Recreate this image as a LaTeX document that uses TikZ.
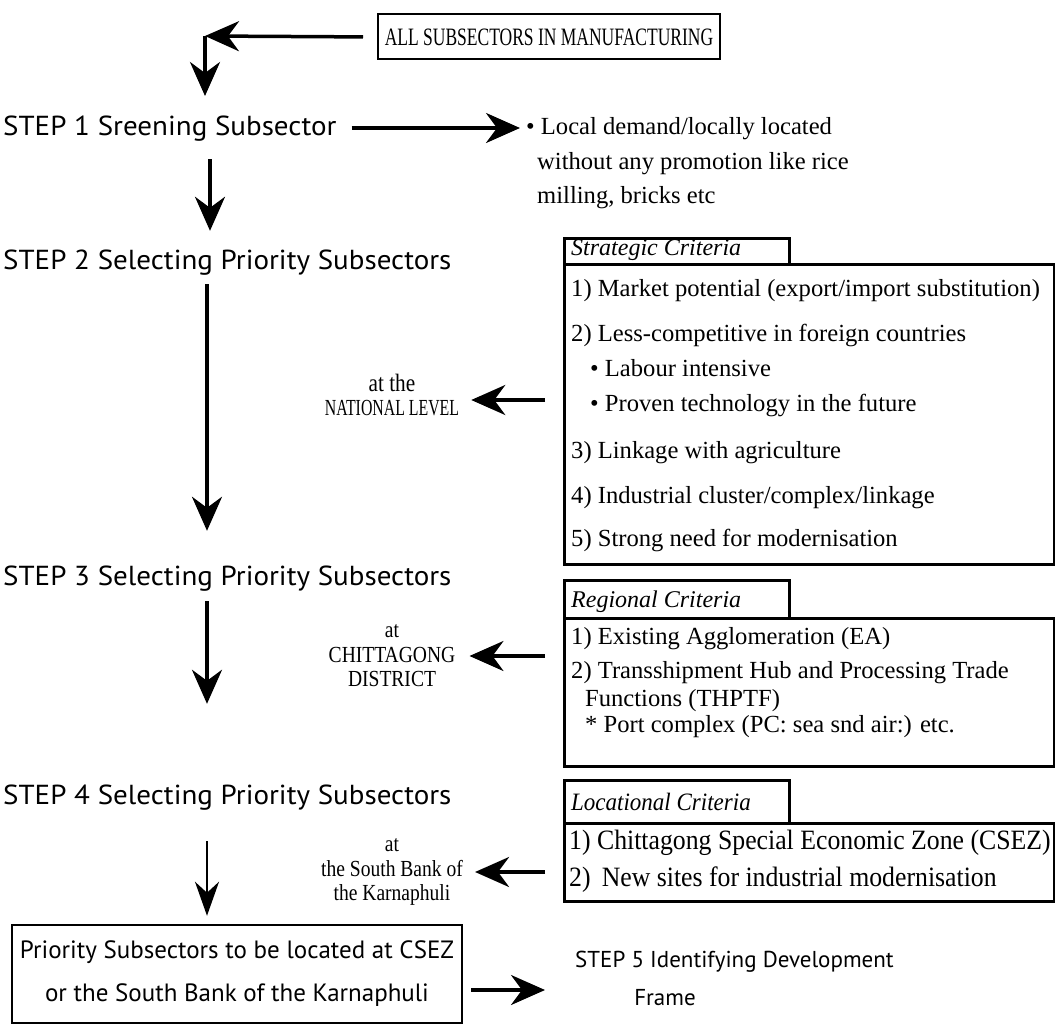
\documentclass[tikz,border=0pt]{standalone}
\usepackage{fontspec}
\setmainfont{Liberation Serif}
\newfontfamily\stepfont[FakeStretch=1.055]{PT Sans}
\newfontfamily\boxsans{PT Sans}
\newfontfamily\condserif[FakeStretch=0.85]{Liberation Serif}
\newfontfamily\locserif[FakeStretch=0.92]{Liberation Serif}
\newfontfamily\narrowserif[FakeStretch=0.7]{Liberation Serif}
\usetikzlibrary{arrows.meta}
\begin{document}
\begin{tikzpicture}[x=1pt,y=-1pt,
  steptxt/.style={anchor=west, inner sep=0pt, text height=19pt, text depth=5pt,
    font=\stepfont\fontsize{27.5}{32}\selectfont},
  crit/.style={anchor=west, inner sep=0pt, text height=17pt, text depth=5pt,
    font=\fontsize{24.6}{30}\selectfont},
  loccrit/.style={anchor=west, inner sep=0pt, text height=18pt, text depth=5pt,
    font=\locserif\fontsize{28}{32}\selectfont},
  lbl/.style={inner sep=0pt, align=center, font=\condserif\fontsize{23}{24.5}\selectfont},
  tabbox/.style={draw, line width=2.5pt, anchor=north west, inner sep=0pt,
    minimum width=225pt, minimum height=26pt},
  tabtxt/.style={anchor=west, inner sep=0pt, font=\itshape\fontsize{24}{28}\selectfont},
  critbox/.style={draw, line width=2.5pt, anchor=north west, inner sep=0pt},
  arr/.style={line width=3.5pt, -{Stealth[length=34pt,width=30pt,inset=11pt]}},
  thinarr/.style={line width=2pt, -{Stealth[length=34pt,width=24pt,inset=11pt]}}
]
\useasboundingbox (0,0) rectangle (1055,1025);

% top box
\node[draw, line width=2pt, minimum width=342pt, minimum height=45pt, inner sep=0pt,
  font=\narrowserif\fontsize{25}{28}\selectfont] (all) at (549,37) {ALL SUBSECTORS IN MANUFACTURING};
\coordinate (c0) at (205,36);
\draw[arr, shorten <=14pt] (all.west) -- (c0);

% steps
\node[steptxt] (step1) at (3,128) {STEP 1 Sreening Subsector};
\node[steptxt] (step2) at (3,262) {STEP 2 Selecting Priority Subsectors};
\node[steptxt] (step3) at (3,578) {STEP 3 Selecting Priority Subsectors};
\node[steptxt] (step4) at (3,797) {STEP 4 Selecting Priority Subsectors};
\coordinate (spine) at (207,0);

\draw[arr] (c0) -- ([yshift=-3pt]c0 |- 0,93);
\draw[arr, shorten <=19pt, shorten >=19pt] (step1.south -| 210,0) -- (step2.north -| 210,0);
\draw[arr, shorten <=10pt, shorten >=35pt] (step2.south -| spine) -- (step3.north -| spine);
\draw[arr, shorten <=11pt, shorten >=81pt] (step3.south -| spine) -- (step4.north -| spine);

% local demand text
\node[crit] (local1) at (526,128) {\textbullet\ Local demand/locally located};
\node[crit] (local2) at (537,163) {without any promotion like rice};
\node[crit] (local3) at (537,197) {milling, bricks etc};
\draw[arr, shorten <=15pt, shorten >=6pt] (step1.east) -- (local1.west);

% strategic criteria
\node[critbox, minimum width=490pt, minimum height=300pt] (sbox) at (563,263) {};
\node[tabbox] (stab) at (563,237) {};
\node[tabtxt] at (571,250) {Strategic Criteria};
\node[crit] (s1) at (571,290) {1) Market potential (export/import substitution)};
\node[crit] (s2) at (571,335) {2) Less-competitive in foreign countries};
\node[crit] (s2a) at (590,370) {\textbullet\ Labour intensive};
\node[crit] (s2b) at (590,405) {\textbullet\ Proven technology in the future};
\node[crit] (s3) at (571,452) {3) Linkage with agriculture};
\node[crit] (s4) at (571,497) {4) Industrial cluster/complex/linkage};
\node[crit] (s5) at (571,540) {5) Strong need for modernisation};

\node[lbl] (natl) at (392,395) {{\fontsize{25}{24.5}\selectfont at the}\\\scalebox{0.81}[1]{NATIONAL LEVEL}};
\draw[arr, shorten <=18pt] (sbox.west |- 0,400) -- ([xshift=12pt]natl.east |- 0,400);

% regional criteria
\node[critbox, minimum width=490pt, minimum height=148pt] (rbox) at (563,617) {};
\node[tabbox, minimum height=38pt] (rtab) at (563,579) {};
\node[tabtxt] at (571,602) {Regional Criteria};
\node[crit] (r1) at (571,638) {1) Existing Agglomeration (EA)};
\node[crit] (r2) at (571,672) {2) Transshipment Hub and Processing Trade};
\node[crit] (r2a) at (585,700) {Functions (THPTF)};
\node[crit] (r2b) at (585,726) {* Port complex (PC: sea snd air:) etc.};

\node[lbl] (chit) at (392,656) {at\\CHITTAGONG\\DISTRICT};
\draw[arr, shorten <=18pt] (rbox.west |- chit.east) -- ([xshift=14pt]chit.east);

% locational criteria
\node[critbox, minimum width=490pt, minimum height=78pt] (lbox) at (563,822) {};
\node[tabbox, minimum height=43pt] (ltab) at (563,779) {};
\node[tabtxt, font=\locserif\itshape\fontsize{25}{28}\selectfont] at (571,802) {Locational Criteria};
\node[loccrit] (l1) at (569,843) {1) Chittagong Special Economic Zone (CSEZ)};
\node[loccrit] (l2) at (569,880) {2)\, New sites for industrial modernisation};

\node[lbl] (sbank) at (392,872) {at\\the South Bank of\\the Karnaphuli};
\draw[arr, shorten <=18pt] (lbox.west |- sbank.east) -- ([xshift=12pt]sbank.east);

% bottom
\node[draw, line width=2.5pt, minimum width=450pt, minimum height=98pt, inner sep=0pt,
  align=center, font=\boxsans\fontsize{25}{43}\selectfont] (prio) at (237,974)
  {Priority Subsectors to be located at CSEZ\\or the South Bank of the Karnaphuli};
\draw[thinarr, shorten <=32pt, shorten >=8pt] (step4.south -| spine) -- (prio.north -| spine);

\node[steptxt, font=\boxsans\fontsize{23}{28}\selectfont] (step5) at (575,960) {STEP 5 Identifying Development};
\node[steptxt, anchor=center, font=\boxsans\fontsize{23}{28}\selectfont] (frame) at (665,998) {Frame};
\coordinate (p5) at (545,990);
\draw[arr, shorten <=8pt] (prio.east |- p5) -- (p5);
\end{tikzpicture}
\end{document}
